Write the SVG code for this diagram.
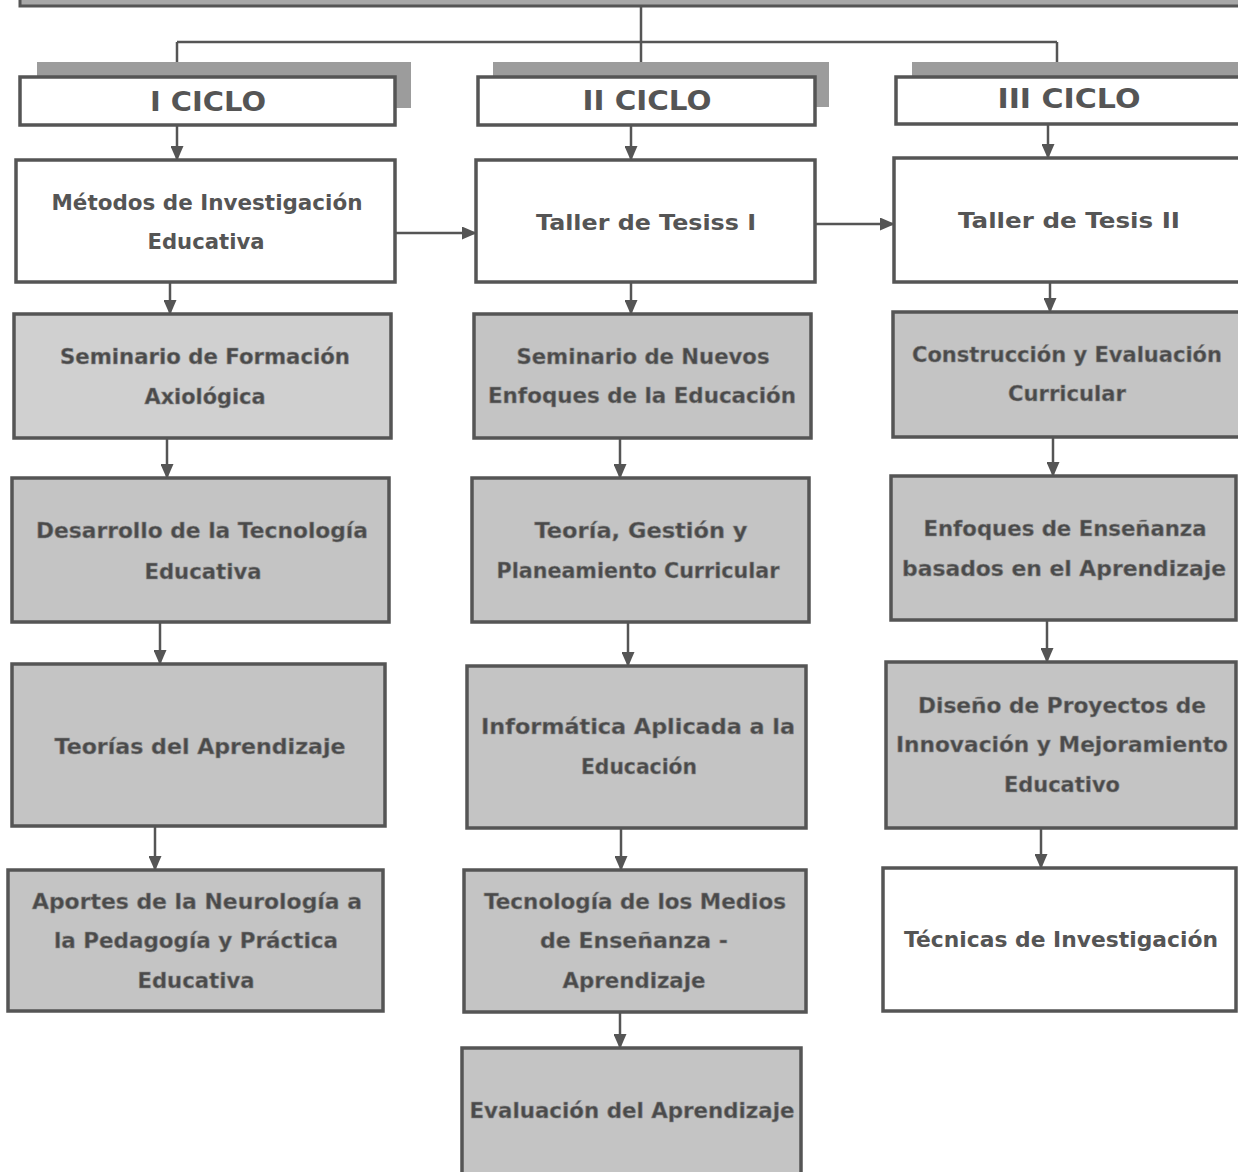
<svg xmlns="http://www.w3.org/2000/svg" width="1238" height="1172" viewBox="0 0 1238 1172">
<style>
.w{fill:#ffffff;stroke:#555;stroke-width:3.5}
.g{fill:#c4c4c4;stroke:#555;stroke-width:3.5}
.gl{fill:#d0d0d0;stroke:#555;stroke-width:3.5}
.sh{fill:#9c9c9c}
.t{font-family:"DejaVu Sans",sans-serif;font-weight:bold;font-size:21px;fill:#555;text-anchor:middle}
.tg{font-family:"DejaVu Sans",sans-serif;font-weight:bold;font-size:21px;fill:#4a4a4a;text-anchor:middle;stroke:#8a8a8a;stroke-width:0.6}
.h{font-family:"DejaVu Sans",sans-serif;font-weight:bold;font-size:26px;fill:#555;text-anchor:middle}
.c{stroke:#555;stroke-width:2.5;fill:none}
</style>
<defs>
<marker id="ar" markerWidth="15" markerHeight="13" refX="14" refY="6.5" orient="auto" markerUnits="userSpaceOnUse">
<path d="M0,0 L15,6.5 L0,13 Z" fill="#555"/>
</marker>
</defs>
<g id="top"><rect x="20" y="-10" width="1230" height="16" fill="#a8a8a8" stroke="#555" stroke-width="3"/></g>
<g id="connectors">
<path class="c" d="M641,6 V42 M177,42 H1057 M177,42 V62 M641,42 V62 M1057,42 V62"/>
<path class="c" marker-end="url(#ar)" d="M177,125 V160"/>
<path class="c" marker-end="url(#ar)" d="M631,125 V160"/>
<path class="c" marker-end="url(#ar)" d="M1048,124 V158"/>
<path class="c" marker-end="url(#ar)" d="M395,233 H476"/>
<path class="c" marker-end="url(#ar)" d="M815,224 H894"/>
<path class="c" marker-end="url(#ar)" d="M170,282 V314"/>
<path class="c" marker-end="url(#ar)" d="M631,282 V314"/>
<path class="c" marker-end="url(#ar)" d="M1050,282 V312"/>
<path class="c" marker-end="url(#ar)" d="M167,438 V478"/>
<path class="c" marker-end="url(#ar)" d="M620,438 V478"/>
<path class="c" marker-end="url(#ar)" d="M1053,437 V476"/>
<path class="c" marker-end="url(#ar)" d="M160,622 V664"/>
<path class="c" marker-end="url(#ar)" d="M628,622 V666"/>
<path class="c" marker-end="url(#ar)" d="M1047,620 V662"/>
<path class="c" marker-end="url(#ar)" d="M155,826 V870"/>
<path class="c" marker-end="url(#ar)" d="M621,828 V870"/>
<path class="c" marker-end="url(#ar)" d="M1041,828 V868"/>
<path class="c" marker-end="url(#ar)" d="M620,1012 V1048"/>
</g>
<g id="ciclo1"><rect class="sh" x="37" y="62" width="374" height="46"/><rect class="w" x="20" y="77" width="375" height="48"/><text class="h" x="208" y="111" textLength="116" lengthAdjust="spacingAndGlyphs">I CICLO</text></g>
<g id="ciclo2"><rect class="sh" x="493" y="62" width="336" height="45"/><rect class="w" x="478" y="77" width="337" height="48"/><text class="h" x="647" y="110" textLength="129" lengthAdjust="spacingAndGlyphs">II CICLO</text></g>
<g id="ciclo3"><rect class="sh" x="912" y="62" width="330" height="43"/><rect class="w" x="896" y="77" width="350" height="47"/><text class="h" x="1069" y="108" textLength="143" lengthAdjust="spacingAndGlyphs">III CICLO</text></g>

<g id="n1a"><rect class="w" x="16" y="160" width="379" height="122"/><text class="t" x="207" y="210" textLength="311" lengthAdjust="spacingAndGlyphs">Métodos de Investigación</text><text class="t" x="206" y="249" textLength="117" lengthAdjust="spacingAndGlyphs">Educativa</text></g>
<g id="n2a"><rect class="w" x="476" y="160" width="339" height="122"/><text class="t" x="646" y="230" textLength="220" lengthAdjust="spacingAndGlyphs">Taller de Tesiss I</text></g>
<g id="n3a"><rect class="w" x="894" y="158" width="350" height="124"/><text class="t" x="1069" y="228" textLength="222" lengthAdjust="spacingAndGlyphs">Taller de Tesis II</text></g>

<g id="n1b"><rect class="gl" x="14" y="314" width="377" height="124"/><text class="tg" x="205" y="364" textLength="290" lengthAdjust="spacingAndGlyphs">Seminario de Formación</text><text class="tg" x="205" y="404" textLength="121" lengthAdjust="spacingAndGlyphs">Axiológica</text></g>
<g id="n2b"><rect class="g" x="474" y="314" width="337" height="124"/><text class="tg" x="643" y="364" textLength="253" lengthAdjust="spacingAndGlyphs">Seminario de Nuevos</text><text class="tg" x="642" y="403" textLength="308" lengthAdjust="spacingAndGlyphs">Enfoques de la Educación</text></g>
<g id="n3b"><rect class="g" x="893" y="312" width="350" height="125"/><text class="tg" x="1067" y="362" textLength="310" lengthAdjust="spacingAndGlyphs">Construcción y Evaluación</text><text class="tg" x="1067" y="401" textLength="118" lengthAdjust="spacingAndGlyphs">Curricular</text></g>

<g id="n1c"><rect class="g" x="12" y="478" width="377" height="144"/><text class="tg" x="202" y="538" textLength="332" lengthAdjust="spacingAndGlyphs">Desarrollo de la Tecnología</text><text class="tg" x="203" y="579" textLength="117" lengthAdjust="spacingAndGlyphs">Educativa</text></g>
<g id="n2c"><rect class="g" x="472" y="478" width="337" height="144"/><text class="tg" x="641" y="538" textLength="213" lengthAdjust="spacingAndGlyphs">Teoría, Gestión y</text><text class="tg" x="638" y="578" textLength="283" lengthAdjust="spacingAndGlyphs">Planeamiento Curricular</text></g>
<g id="n3c"><rect class="g" x="891" y="476" width="345" height="144"/><text class="tg" x="1065" y="536" textLength="283" lengthAdjust="spacingAndGlyphs">Enfoques de Enseñanza</text><text class="tg" x="1064" y="576" textLength="324" lengthAdjust="spacingAndGlyphs">basados en el Aprendizaje</text></g>

<g id="n1d"><rect class="g" x="12" y="664" width="373" height="162"/><text class="tg" x="200" y="754" textLength="291" lengthAdjust="spacingAndGlyphs">Teorías del Aprendizaje</text></g>
<g id="n2d"><rect class="g" x="467" y="666" width="339" height="162"/><text class="tg" x="638" y="734" textLength="314" lengthAdjust="spacingAndGlyphs">Informática Aplicada a la</text><text class="tg" x="639" y="774" textLength="116" lengthAdjust="spacingAndGlyphs">Educación</text></g>
<g id="n3d"><rect class="g" x="886" y="662" width="350" height="166"/><text class="tg" x="1062" y="713" textLength="288" lengthAdjust="spacingAndGlyphs">Diseño de Proyectos de</text><text class="tg" x="1062" y="752" textLength="332" lengthAdjust="spacingAndGlyphs">Innovación y Mejoramiento</text><text class="tg" x="1062" y="792" textLength="116" lengthAdjust="spacingAndGlyphs">Educativo</text></g>

<g id="n1e"><rect class="g" x="8" y="870" width="375" height="141"/><text class="tg" x="197" y="909" textLength="330" lengthAdjust="spacingAndGlyphs">Aportes de la Neurología a</text><text class="tg" x="196" y="948" textLength="284" lengthAdjust="spacingAndGlyphs">la Pedagogía y Práctica</text><text class="tg" x="196" y="988" textLength="117" lengthAdjust="spacingAndGlyphs">Educativa</text></g>
<g id="n2e"><rect class="g" x="464" y="870" width="342" height="142"/><text class="tg" x="635" y="909" textLength="302" lengthAdjust="spacingAndGlyphs">Tecnología de los Medios</text><text class="tg" x="634" y="948" textLength="188" lengthAdjust="spacingAndGlyphs">de Enseñanza -</text><text class="tg" x="634" y="988" textLength="143" lengthAdjust="spacingAndGlyphs">Aprendizaje</text></g>
<g id="n3e"><rect class="w" x="883" y="868" width="353" height="143"/><text class="t" x="1061" y="947" textLength="314" lengthAdjust="spacingAndGlyphs">Técnicas de Investigación</text></g>

<g id="n2f"><rect class="g" x="462" y="1048" width="339" height="130"/><text class="tg" x="632" y="1118" textLength="325" lengthAdjust="spacingAndGlyphs">Evaluación del Aprendizaje</text></g>
</svg>
